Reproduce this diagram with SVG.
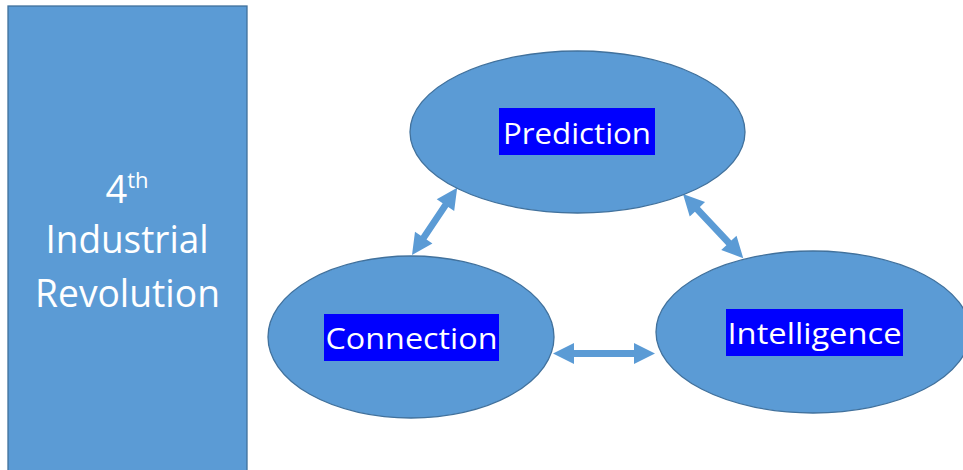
<svg xmlns="http://www.w3.org/2000/svg" width="963" height="470" viewBox="0 0 963 470">
<style>
.shape{fill:#5B9BD5;stroke:#41719C;stroke-width:1.3}
.hl{fill:#0000FF}
.lbl{font-family:"Open Sans","Liberation Sans",sans-serif;fill:#FFFFFF;text-anchor:middle}
.node{font-size:30px}
.big{font-size:38px}
.arrow{fill:#5B9BD5;stroke:none}
</style>
<rect width="963" height="470" fill="#FFFFFF"/>
<g id="revolution">
<rect class="shape" x="8" y="6" width="239" height="470"/>
<text class="lbl big" x="127" y="203">4<tspan font-size="22" dy="-15">th</tspan></text>
<text class="lbl big" x="127" y="253" textLength="163" lengthAdjust="spacingAndGlyphs">Industrial</text>
<text class="lbl big" x="127.5" y="307" textLength="185" lengthAdjust="spacingAndGlyphs">Revolution</text>
</g>
<g id="connectors">
<path class="arrow" transform="translate(412,255) rotate(-56.1)" d="M0,0 L21,-10.5 L21,-3.4 L60,-3.4 L60,-10.5 L81,0 L60,10.5 L60,3.4 L21,3.4 L21,10.5 Z"/>
<path class="arrow" transform="translate(683,194) rotate(46.8)" d="M0,0 L21,-10.5 L21,-3.4 L67,-3.4 L67,-10.5 L88,0 L67,10.5 L67,3.4 L21,3.4 L21,10.5 Z"/>
<path class="arrow" transform="translate(553,353.5)" d="M0,0 L21,-10.5 L21,-3.4 L81,-3.4 L81,-10.5 L102,0 L81,10.5 L81,3.4 L21,3.4 L21,10.5 Z"/>
</g>
<g id="prediction">
<ellipse class="shape" cx="577.5" cy="132" rx="167.5" ry="81"/>
<rect class="hl" x="499" y="108" width="156" height="47"/>
<text class="lbl node" x="577" y="144" textLength="148" lengthAdjust="spacingAndGlyphs">Prediction</text>
</g>
<g id="connection">
<ellipse class="shape" cx="411" cy="337" rx="143" ry="81"/>
<rect class="hl" x="324" y="314" width="175" height="47"/>
<text class="lbl node" x="411.5" y="349" textLength="172" lengthAdjust="spacingAndGlyphs">Connection</text>
</g>
<g id="intelligence">
<ellipse class="shape" cx="813" cy="332" rx="157" ry="81"/>
<rect class="hl" x="726" y="309" width="177" height="47"/>
<text class="lbl node" x="814.5" y="344" textLength="174" lengthAdjust="spacingAndGlyphs">Intelligence</text>
</g>
</svg>
